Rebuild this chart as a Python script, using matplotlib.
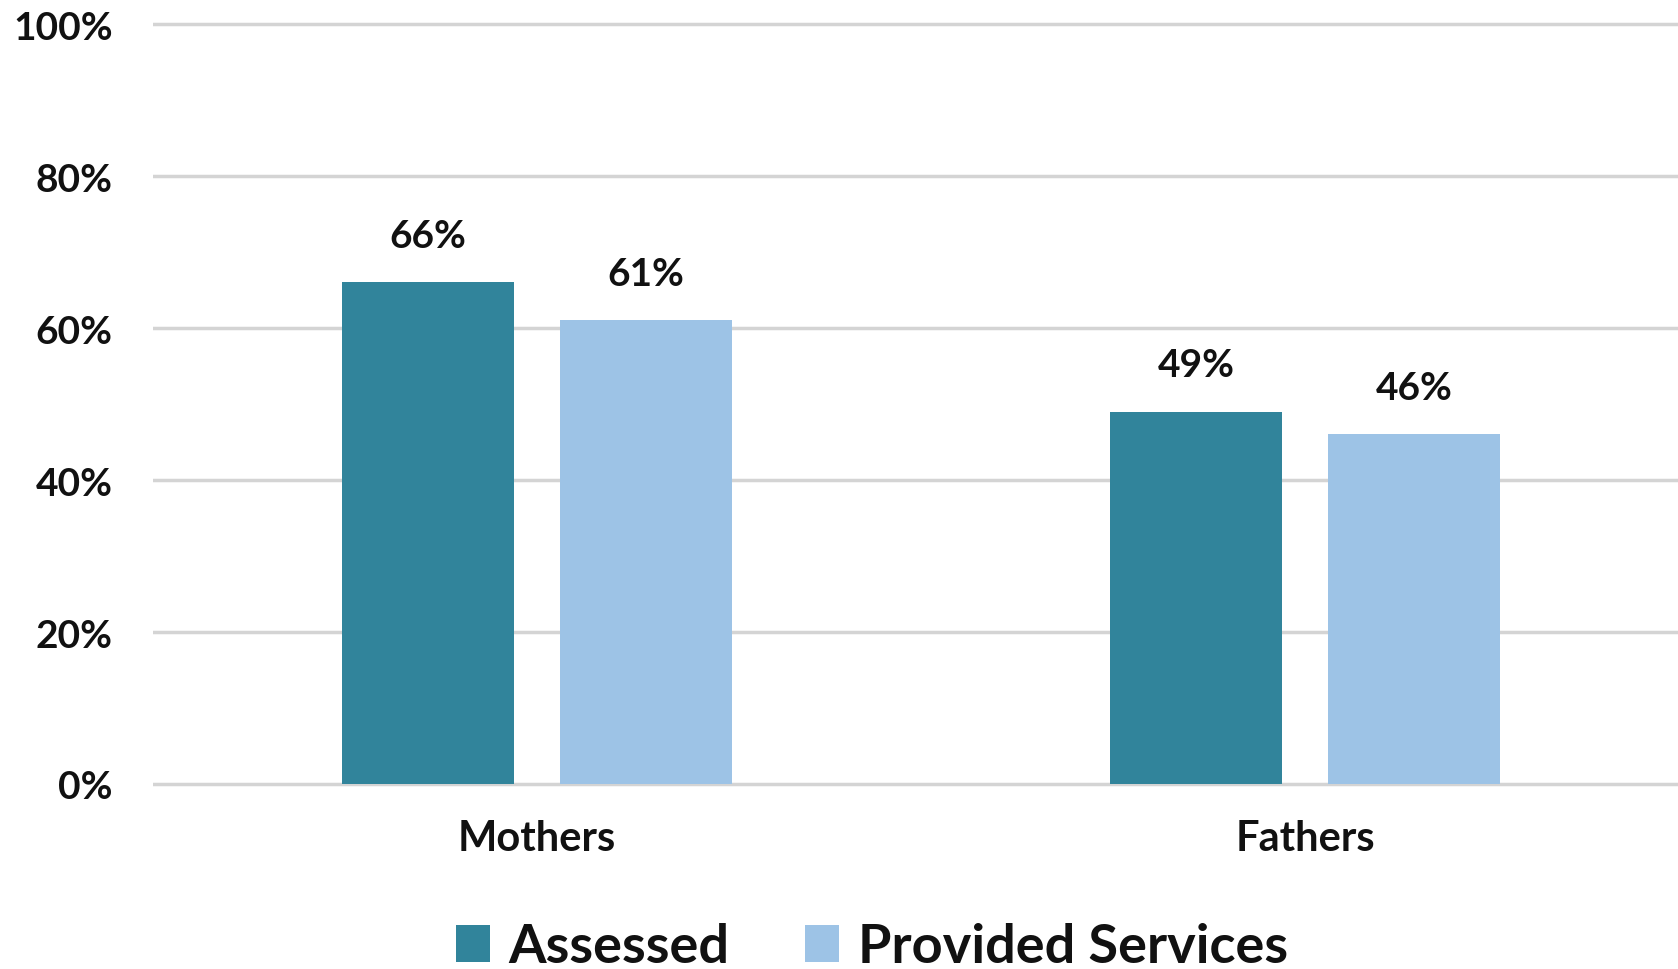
import matplotlib
matplotlib.use("Agg")
import matplotlib.pyplot as plt
from matplotlib.ticker import FuncFormatter
import numpy as np

categories = ["Mothers", "Fathers"]
series_names = ["Assessed", "Provided Services"]
assessed = [0.66, 0.49]
provided = [0.61, 0.46]
yticks = [0, 0.2, 0.4, 0.6, 0.8, 1.0]

colors = ["#31849B", "#9DC3E6"]

plt.rcParams['font.family'] = ['Lato', 'DejaVu Sans']
plt.rcParams['font.weight'] = 'bold'

W, H = 1678, 970
fig = plt.figure(figsize=(W / 100, H / 100), dpi=100)
left = 153 / W
right = 1689 / W
bottom = 1 - 792.6 / H
top = 1 - 17.4 / H
ax = fig.add_axes([left, bottom, right - left, top - bottom])

x = np.arange(len(categories))
bw = 0.224
off = 0.142
b1 = ax.bar(x - off, assessed, bw, color=colors[0], label=series_names[0], zorder=3)
b2 = ax.bar(x + off, provided, bw, color=colors[1], label=series_names[1], zorder=3)

for bars, vals in ((b1, assessed), (b2, provided)):
    for r, v in zip(bars, vals):
        ax.annotate(f"{round(v*100)}%", (r.get_x() + r.get_width() / 2, v),
                    xytext=(0, 21), textcoords="offset points",
                    ha="center", va="bottom", fontsize=28, fontweight="bold",
                    color="#111111")

ax.set_xlim(-0.5, 1.5)
ax.set_ylim(-0.01, 1.01)
ax.set_yticks(yticks)
ax.yaxis.set_major_formatter(FuncFormatter(lambda v, p: f"{round(v*100)}%"))
ax.set_xticks(x)
ax.set_xticklabels(categories)
ax.tick_params(axis="y", length=0, pad=29, labelsize=28, labelcolor="#111111")
ax.tick_params(axis="x", length=0, pad=20, labelsize=30, labelcolor="#111111")
for lab in ax.get_xticklabels() + ax.get_yticklabels():
    lab.set_fontweight("bold")
for s in ax.spines.values():
    s.set_visible(False)
ax.yaxis.grid(True, color="#D4D4D4", linewidth=2.5, zorder=0)
ax.set_axisbelow(True)

leg = fig.legend(handles=[b1, b2], loc="center", bbox_to_anchor=(872 / W, 1 - 948 / H),
                 ncol=2, frameon=False, fontsize=39, handlelength=0.62, handleheight=0.68,
                 handletextpad=0.35, columnspacing=1.4)
for t in leg.get_texts():
    t.set_fontweight("bold")
    t.set_color("#111111")

fig.savefig("out.png", dpi=100)
